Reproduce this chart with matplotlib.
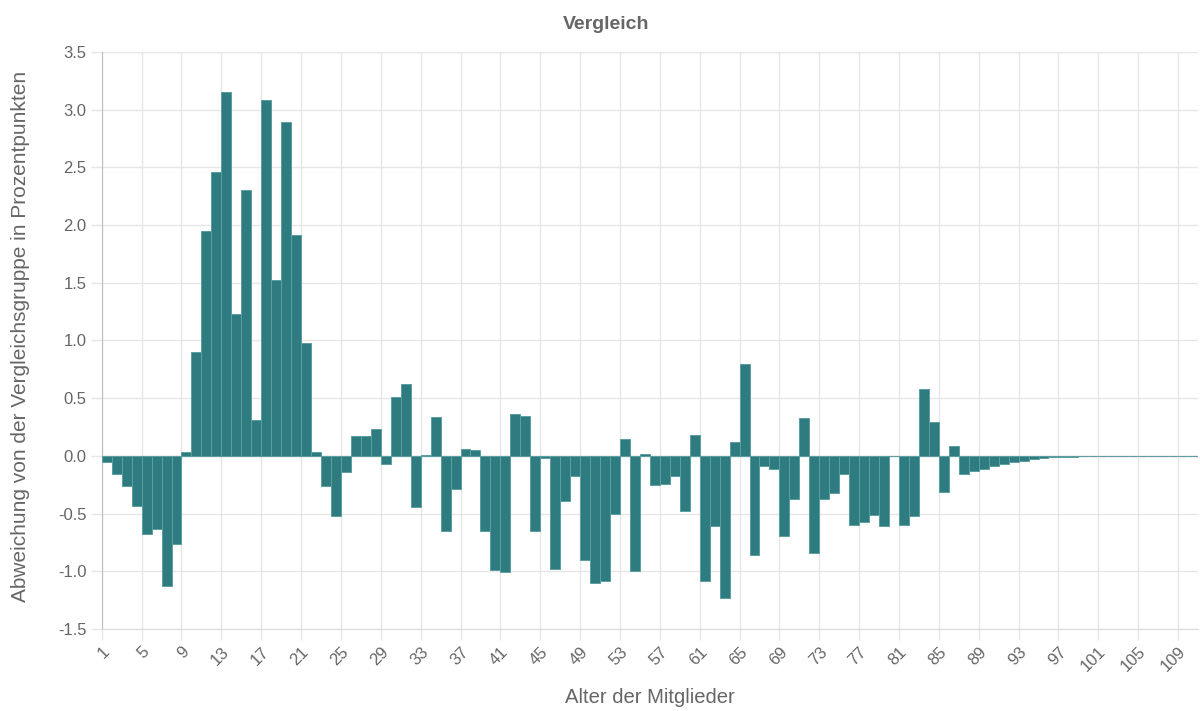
import numpy as np
import matplotlib
matplotlib.use('Agg')
import matplotlib.pyplot as plt

plt.rcParams['font.family'] = ['Liberation Sans', 'DejaVu Sans']

# Abweichung je Alter (1..110)
ages = np.arange(1, 111)
values = [
    -0.05, -0.16, -0.26, -0.43, -0.68, -0.63, -1.13, -0.76, 0.03, 0.90,   # 1-10
    1.95, 2.46, 3.15, 1.23, 2.30, 0.31, 3.08, 1.52, 2.89, 1.91,           # 11-20
    0.98, 0.03, -0.26, -0.52, -0.14, 0.17, 0.17, 0.23, -0.07, 0.51,       # 21-30
    0.62, -0.44, 0.01, 0.34, -0.65, -0.29, 0.06, 0.05, -0.65, -0.99,      # 31-40
    -1.01, 0.36, 0.35, -0.65, -0.02, -0.98, -0.39, -0.17, -0.90, -1.10,   # 41-50
    -1.08, -0.50, 0.15, -1.00, 0.02, -0.25, -0.24, -0.17, -0.48, 0.18,    # 51-60
    -1.08, -0.61, -1.23, 0.12, 0.80, -0.86, -0.09, -0.11, -0.69, -0.37,   # 61-70
    0.33, -0.84, -0.37, -0.32, -0.16, -0.60, -0.57, -0.51, -0.61, 0.0,    # 71-80
    -0.60, -0.52, 0.58, 0.29, -0.31, 0.09, -0.16, -0.13, -0.11, -0.09,    # 81-90
    -0.07, -0.05, -0.04, -0.023, -0.017, -0.013, -0.008, -0.006, -0.004, -0.003,  # 91-100
    0, 0, 0, 0, 0, 0, 0, 0, 0, 0,                                         # 101-110
]
tick_ages = list(range(1, 111, 4))
y_ticks = [-1.5, -1.0, -0.5, 0, 0.5, 1.0, 1.5, 2.0, 2.5, 3.0, 3.5]

fig = plt.figure(figsize=(12, 7.11), dpi=100)
ax = fig.add_axes([0.0848, 0.1153, 0.9135, 0.8116])

ax.bar(ages, values, width=1.0, align='edge', color='#2e7c80',
       edgecolor='#5c9fa1', linewidth=0.7, zorder=3)

ax.set_xlim(1, 111)
ax.set_ylim(-1.5, 3.5)
ax.set_xticks(tick_ages)
ax.set_xticklabels([str(a) for a in tick_ages], rotation=45, ha='right',
                   rotation_mode='anchor', fontsize=12, color='#666666')
ax.set_yticks(y_ticks)
ax.set_yticklabels(['%.1f' % v for v in y_ticks], fontsize=12, color='#666666')
ax.tick_params(axis='both', length=8, width=1, color='#e6e6e6', pad=3)

ax.grid(True, color='#e6e6e6', linewidth=1, zorder=0)
ax.axhline(0, color='#bdbdbd', linewidth=1, zorder=2)
for s in ['top', 'right']:
    ax.spines[s].set_visible(False)
ax.spines['bottom'].set_color('#dcdcdc')
ax.spines['left'].set_color('#bdbdbd')

fig.text(0.505, 0.966, 'Vergleich', fontsize=14, fontweight='bold',
         color='#666666', ha='center', va='center')
ax.set_xlabel('Alter der Mitglieder', fontsize=14.6, color='#666666')
ax.xaxis.set_label_coords(0.5, -0.102)
ax.set_ylabel('Abweichung von der Vergleichsgruppe in Prozentpunkten',
              fontsize=15, color='#666666')
ax.yaxis.set_label_coords(-0.0655, 0.507)

fig.savefig('out.png', dpi=100)
